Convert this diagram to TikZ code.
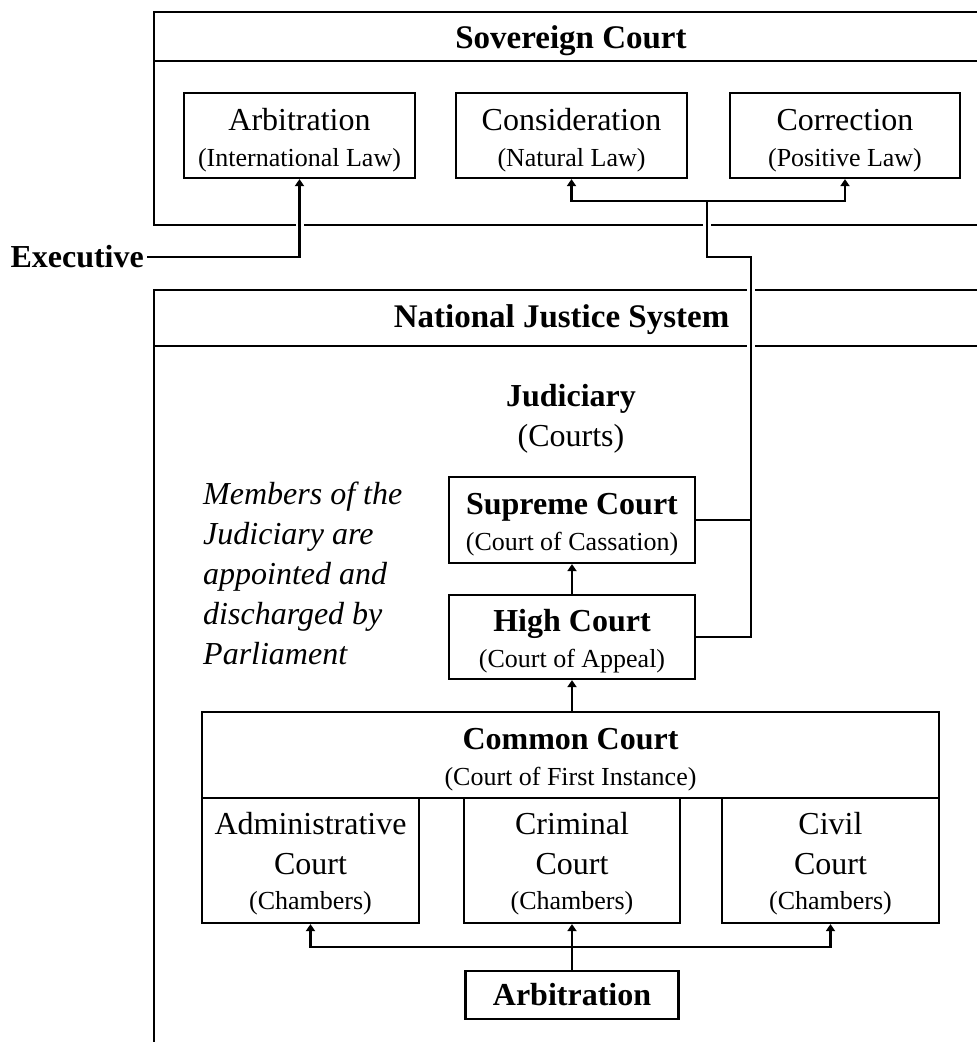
\documentclass[tikz,border=0pt]{standalone}
\usepackage{fontspec}
\setmainfont{Liberation Serif}
\usetikzlibrary{arrows.meta}
\newcommand{\subt}[1]{{\fontsize{26}{36}\selectfont #1}}
\newcommand{\tstrut}{\rule{0pt}{31pt}}
\newcommand{\cstrut}{\rule{0pt}{28pt}}
\begin{document}
\begin{tikzpicture}[x=1pt,y=-1pt,
  frame/.style={draw, line width=2.2pt, inner sep=0pt},
  box/.style={draw, line width=2.2pt, inner sep=0pt, align=center, font=\fontsize{32}{36}\selectfont},
  lbl/.style={inner sep=0pt, align=center, font=\fontsize{32}{40}\selectfont},
  ttl/.style={inner sep=0pt, font=\fontsize{33}{40}\selectfont\bfseries},
  conn/.style={line width=2.2pt},
  arr/.style={conn, -{Triangle[length=7pt,width=9pt]}},
  gap/.style={fill=white, draw=none}
]
\useasboundingbox (0,0) rectangle (977,1042);
\clip (0,0) rectangle (977,1042);

% Sovereign Court frame
\node[frame, minimum width=836pt, minimum height=49pt] (sovT) at (572,36.5) {};
\node[frame, minimum width=836pt, minimum height=164pt] (sov) at (572,143) {};
\node[ttl] (sovL) at (571,41) {Sovereign Court};

% National Justice System frame
\node[frame, minimum width=836pt, minimum height=56pt] (natT) at (572,318) {};
\node[frame, minimum width=836pt, minimum height=724pt] (nat) at (572,708) {};
\node[ttl] (natL) at (561.5,320) {National Justice System};

% Sovereign boxes
\node[box, minimum width=231pt, minimum height=85pt] (arbS) at (299.5,135.5)
  {\tstrut Arbitration\\\subt{(International Law)}};
\node[box, minimum width=231pt, minimum height=85pt] (cons) at (571.5,135.5)
  {\tstrut Consideration\\\subt{(Natural Law)}};
\node[box, minimum width=230pt, minimum height=85pt] (corr) at (845,135.5)
  {\tstrut Correction\\\subt{(Positive Law)}};

% Executive
\node[inner sep=3pt, anchor=east, font=\fontsize{32}{40}\selectfont\bfseries] (exec) at (147,257) {Executive};

% Judiciary
\node[lbl] (jud) at (571,419) {\textbf{Judiciary}\\(Courts)};
\node[inner sep=0pt, anchor=north west, align=left, font=\fontsize{32}{40}\selectfont\itshape] (memb) at (203,482)
  {Members of the\\Judiciary are\\appointed and\\discharged by\\Parliament};

\node[box, minimum width=246pt, minimum height=86pt] (sup) at (572,520)
  {\tstrut\textbf{Supreme Court}\\\subt{(Court of Cassation)}};
\node[box, minimum width=246pt, minimum height=84pt] (high) at (572,637)
  {\tstrut\textbf{High Court}\\\subt{(Court of Appeal)}};

\node[box, minimum width=737pt, minimum height=86pt] (common) at (570.5,755)
  {\tstrut\textbf{Common Court}\\\subt{(Court of First Instance)}};
\node[box, minimum width=217pt, minimum height=125pt, font=\fontsize{32}{40}\selectfont] (admin) at (310.5,860.5)
  {\cstrut Administrative\\Court\\[-5pt]\subt{(Chambers)}};
\node[box, minimum width=216pt, minimum height=125pt, font=\fontsize{32}{40}\selectfont] (crim) at (572,860.5)
  {\cstrut Criminal\\Court\\[-5pt]\subt{(Chambers)}};
\node[box, minimum width=217pt, minimum height=125pt, font=\fontsize{32}{40}\selectfont] (civil) at (830.5,860.5)
  {\cstrut Civil\\Court\\[-5pt]\subt{(Chambers)}};
\node[box, minimum width=213pt, minimum height=48pt] (arbB) at (572,995) {\textbf{Arbitration}};

% gaps where connectors cross frame lines
\fill[gap] (296,221) rectangle (304,229);
\fill[gap] (703,221) rectangle (711,229);
\fill[gap] (747,286) rectangle (755,294);
\fill[gap] (747,342) rectangle (755,350);

% connectors
\coordinate (j) at (707,201);
\coordinate (v) at (751,257);
\coordinate (hb) at (572,947);

\draw[arr] (exec.east) -| (arbS.south);
\draw[arr] (j) -| (cons.south);
\draw[arr] (j) -| (corr.south);
\draw[conn] (j) |- (v) -- (v |- high.east) -- (high.east);
\draw[conn] (v |- sup.east) -- (sup.east);

\draw[arr] (high.north) -- (sup.south);
\draw[arr] (common.north -| high.south) -- (high.south);

\draw[arr] (arbB.north) -- (crim.south);
\draw[arr] (hb) -| (admin.south);
\draw[arr] (hb) -| (civil.south);
\end{tikzpicture}
\end{document}
